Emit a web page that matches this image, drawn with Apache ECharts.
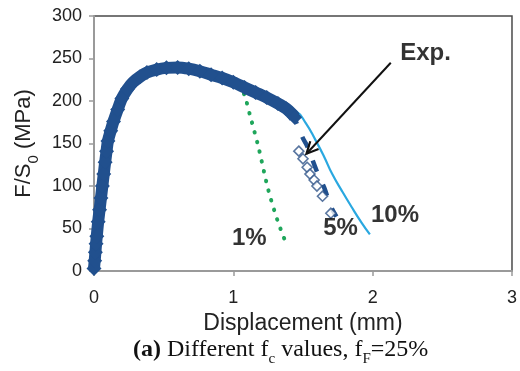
<!DOCTYPE html>
<html>
<head>
<meta charset="utf-8">
<script src="https://cdn.jsdelivr.net/npm/echarts@6/dist/echarts.min.js"></script>
<style>
  html, body { margin: 0; padding: 0; background: #fff; }
  #chart { width: 520px; height: 371px; }
</style>
</head>
<body>
<div id="chart"></div>
<script>
// experimental curve (dense markers)
const bandX = [0, 0.005, 0.01, 0.015, 0.02, 0.03, 0.04, 0.05, 0.06, 0.07, 0.08, 0.09, 0.10, 0.12, 0.14, 0.17, 0.20, 0.24, 0.28, 0.33, 0.38, 0.45, 0.52, 0.60, 0.68, 0.76, 0.84, 0.92, 1.00, 1.08, 1.16, 1.24, 1.32, 1.38, 1.42, 1.44]
const bandY = [3, 12, 22, 32, 41, 58, 72, 86, 100, 114, 128, 141, 153, 165, 176, 190, 203, 214, 222, 228.5, 233.5, 237, 239, 239.5, 238, 235, 231, 227, 222, 216, 210, 204, 197, 191, 185, 181]
// experimental points after the drop (sparse hollow diamonds)
const expX = [1.47, 1.50, 1.53, 1.55, 1.58, 1.60, 1.64, 1.70]
const expY = [141, 132, 122, 114, 107, 100, 88, 68]
// simulations, fc = 1%, 5%, 10%
const oneX = [1.04, 1.08, 1.12, 1.18, 1.25, 1.32, 1.39]
const oneY = [219, 207, 183, 146, 96, 58, 28]
const fiveX = [1.42, 1.47, 1.50, 1.53, 1.60, 1.65, 1.70, 1.74]
const fiveY = [186, 168, 156, 147, 117, 99, 76, 64]
const tenX = [1.38, 1.45, 1.52, 1.59, 1.65, 1.71, 1.78, 1.85, 1.92, 1.98]
const tenY = [191, 188, 174, 154, 135, 114, 94, 75, 57, 43]
// annotations
const noteText = ['1%', '5%', '10%', 'Exp.']
const noteX = [1.115, 1.77, 2.16, 2.38]
const noteY = [38, 50, 66, 256]
const arrowFrom = [2.13, 245]
const arrowTo = [1.525, 138]

const zip = (xs, ys) => xs.map((x, i) => [x, ys[i]])
const sans = '"Liberation Sans", Arial, sans-serif'
const serif = '"Liberation Serif", "Times New Roman", serif'
const darkBlue = '#21508e'

const option = {
  animation: false,
  grid: {
    left: 94,
    right: 5,
    top: 16,
    bottom: 100,
    show: true,
    borderColor: '#4a4a4a',
    borderWidth: 1.5,
  },
  xAxis: {
    type: 'value',
    min: 0,
    max: 3,
    interval: 1,
    name: 'Displacement (mm)',
    nameLocation: 'middle',
    nameGap: 40,
    nameTextStyle: { fontFamily: sans, fontSize: 23, color: '#222' },
    axisLine: { lineStyle: { color: '#9a9a9a', width: 2 } },
    axisTick: { show: true, length: 5, lineStyle: { color: '#9a9a9a', width: 1.5 } },
    axisLabel: { fontFamily: sans, fontSize: 18, color: '#222', margin: 18 },
    splitLine: { show: false },
  },
  yAxis: {
    type: 'value',
    min: 0,
    max: 300,
    interval: 50,
    name: 'F/S{sub|0} (MPa)',
    nameLocation: 'middle',
    nameGap: 55,
    nameTextStyle: {
      fontFamily: sans, fontSize: 22, color: '#222',
      rich: { sub: { fontFamily: sans, fontSize: 15, color: '#222', verticalAlign: 'bottom', padding: [0, 0, -6, 0] } },
    },
    axisLine: { show: true, lineStyle: { color: '#9a9a9a', width: 2 } },
    axisTick: { show: true, length: 5, lineStyle: { color: '#9a9a9a', width: 1.5 } },
    axisLabel: { fontFamily: sans, fontSize: 18, color: '#222', margin: 12 },
    splitLine: { show: false },
  },
  series: [
    {
      name: '1%',
      type: 'line',
      data: zip(oneX, oneY),
      showSymbol: false,
      smooth: 0.3,
      lineStyle: { color: '#1fa65b', width: 4, type: [0.5, 9.5], cap: 'round' },
      z: 2,
    },
    {
      name: '10%',
      type: 'line',
      data: zip(tenX, tenY),
      showSymbol: false,
      smooth: 0.5,
      lineStyle: { color: '#2aa8e0', width: 2.2 },
      z: 2,
    },
    {
      name: '5%',
      type: 'line',
      data: zip(fiveX, fiveY),
      showSymbol: false,
      smooth: 0.3,
      lineStyle: { color: darkBlue, width: 4.5, type: [12, 14] },
      z: 3,
    },
    {
      name: 'Exp band',
      type: 'line',
      data: zip(bandX, bandY),
      smooth: 0.3,
      symbol: 'diamond',
      symbolSize: 15,
      showAllSymbol: true,
      itemStyle: { color: darkBlue },
      lineStyle: { color: darkBlue, width: 12 },
      z: 4,
    },
    {
      name: 'Exp',
      type: 'scatter',
      data: zip(expX, expY),
      symbol: 'diamond',
      symbolSize: 10,
      itemStyle: { color: '#fff', borderColor: '#2f5488', borderWidth: 1.6 },
      z: 5,
    },
    {
      name: 'notes',
      type: 'scatter',
      data: noteText.map((t, i) => ({ value: [noteX[i], noteY[i]], name: t })),
      symbolSize: 0,
      silent: true,
      itemStyle: { color: '#000' },
      label: {
        show: true,
        position: 'inside',
        formatter: (p) => p.name,
        fontFamily: sans,
        fontWeight: 'bold',
        fontSize: 24,
        color: '#000',
        textBorderWidth: 0,
      },
      z: 6,
    },
  ],
  graphic: [
    {
      id: 'caption',
      type: 'text',
      left: 133,
      top: 338,
      style: {
        text: '{b|(a)} Different f{sub|c} values, f{sub|F}=25%',
        font: '24px ' + serif,
        fill: '#111',
        rich: {
          b: { fontFamily: serif, fontSize: 24, fontWeight: 'bold', fill: '#111' },
          sub: { fontFamily: serif, fontSize: 15, fill: '#111', verticalAlign: 'bottom', padding: [0, 0, -5, 0] },
        },
      },
    },
  ],
}

const myChart = echarts.init(document.getElementById('chart'))
myChart.setOption(option)

// arrow pointing at the experimental points
const p0 = myChart.convertToPixel({ gridIndex: 0 }, arrowFrom)
const p1 = myChart.convertToPixel({ gridIndex: 0 }, arrowTo)
const ang = Math.atan2(p0[1] - p1[1], p0[0] - p1[0])
const head = 13
const spread = 0.45
myChart.setOption({
  graphic: [
    {
      id: 'arrowLine',
      type: 'polyline',
      z: 10,
      shape: { points: [p0, p1] },
      style: { stroke: '#111', lineWidth: 2, fill: null },
    },
    {
      id: 'arrowHead',
      type: 'polyline',
      z: 10,
      shape: {
        points: [
          [p1[0] + head * Math.cos(ang + spread), p1[1] + head * Math.sin(ang + spread)],
          p1,
          [p1[0] + head * Math.cos(ang - spread), p1[1] + head * Math.sin(ang - spread)],
        ],
      },
      style: { stroke: '#111', lineWidth: 2.2, fill: null, lineJoin: 'miter' },
    },
  ],
})
</script>
</body>
</html>
